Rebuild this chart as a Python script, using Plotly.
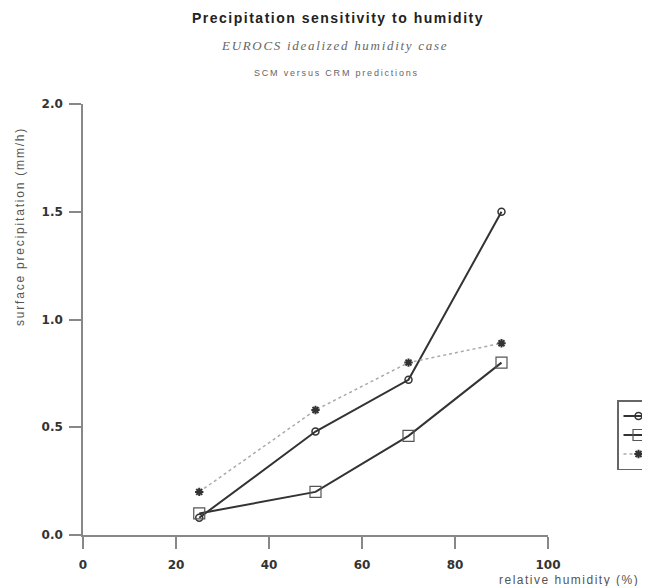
import plotly.graph_objects as go

humidity = [25, 50, 70, 90]
scm = [0.08, 0.48, 0.72, 1.50]
crm_a = [0.10, 0.20, 0.46, 0.80]
crm_b = [0.20, 0.58, 0.80, 0.89]
series_names = [" ", " ", " "]
x_ticks = [0, 20, 40, 60, 80, 100]
y_ticks = [0.0, 0.5, 1.0, 1.5, 2.0]

fig = go.Figure()
fig.add_trace(go.Scatter(x=humidity, y=scm, name=series_names[0], mode="lines+markers",
                         line=dict(color="#333333", width=2),
                         marker=dict(symbol="circle-open", size=7, color="#333333", line=dict(width=1.5))))
fig.add_trace(go.Scatter(x=humidity, y=crm_a, name=series_names[1], mode="lines+markers",
                         line=dict(color="#333333", width=2),
                         marker=dict(symbol="square-open", size=11, color="#555555", line=dict(width=1.2))))
fig.add_trace(go.Scatter(x=humidity, y=crm_b, name=series_names[2], mode="lines+markers",
                         line=dict(color="#aaaaaa", width=1.5, dash="dot"),
                         marker=dict(symbol="asterisk", size=7, color="#333333", line=dict(width=2, color="#333333"))))

# plot area in figure pixels
L, R, T, B = 75, 110, 96, 59
W, H = 650, 586
pw, ph = W - L - R, H - T - B
OFF = 8  # page offset of the figure in the screenshot


def px(xs):
    return (xs - OFF - L) / pw


def py(ys):
    return (H - B - (ys - OFF)) / ph


def spaced(txt, sp):
    return f'<span style="letter-spacing:{sp}px">{txt}</span>'


axis_font = dict(family="DejaVu Sans, Liberation Sans, sans-serif", size=12, color="#333333", weight=700)
fig.update_layout(
    width=W, height=H,
    paper_bgcolor="white", plot_bgcolor="white",
    margin=dict(l=L, r=R, t=T, b=B, autoexpand=False),
    showlegend=True,
    legend=dict(x=px(617), xanchor="left", y=py(435), yanchor="middle",
                bordercolor="#666666", borderwidth=1.5, bgcolor="white",
                font=dict(size=10, color="#444444"), tracegroupgap=0),
    xaxis=dict(range=[0, 100], tickvals=x_ticks, ticks="outside", ticklen=12, tickcolor="#888888",
               tickwidth=1.5, showline=True, linecolor="#888888", linewidth=1.5, showgrid=False,
               zeroline=False, tickfont=axis_font, ticklabelstandoff=6),
    yaxis=dict(range=[0, 2.0], tickvals=y_ticks, tickformat=".1f", ticks="outside", ticklen=12,
               tickcolor="#888888", tickwidth=1.5, showline=True, linecolor="#888888", linewidth=1.5,
               showgrid=False, zeroline=False, tickfont=axis_font, ticklabelstandoff=4),
    annotations=[
        dict(text=spaced("<b>Precipitation sensitivity to humidity</b>", 1.5), x=px(338), y=py(18),
             xref="paper", yref="paper", xanchor="center", yanchor="middle", showarrow=False,
             font=dict(family="Liberation Sans, Arial", size=14, color="#222222")),
        dict(text=spaced("<i>EUROCS idealized humidity case</i>", 1.7), x=px(334), y=py(45),
             xref="paper", yref="paper", xanchor="center", yanchor="middle", showarrow=False,
             font=dict(family="Liberation Serif, Times New Roman, serif", size=13, color="#666666")),
        dict(text=spaced("SCM versus CRM predictions", 1.8), x=px(336), y=py(73),
             xref="paper", yref="paper", xanchor="center", yanchor="middle", showarrow=False,
             font=dict(family="Liberation Sans, Arial", size=9, color="#666666")),
        dict(text=spaced("surface precipitation (mm/h)", 1.8), x=px(20), y=py(227),
             xref="paper", yref="paper", xanchor="center", yanchor="middle", showarrow=False,
             textangle=-90, font=dict(family="Liberation Sans, Arial", size=12, color="#555555")),
        dict(text=spaced("relative humidity (%)", 1.5), x=px(569), y=py(580),
             xref="paper", yref="paper", xanchor="center", yanchor="middle", showarrow=False,
             font=dict(family="Liberation Sans, Arial", size=12, color="#555555")),
    ],
)

fig.write_html("out.html")
